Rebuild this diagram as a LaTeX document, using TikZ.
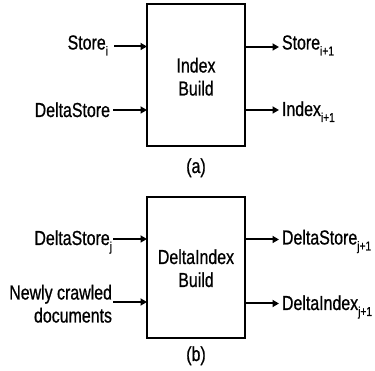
\documentclass[tikz,border=0pt]{standalone}
\usepackage{fontspec}
\setmainfont{Liberation Sans}[FakeStretch=0.785,FakeBold=0.7]
\usetikzlibrary{arrows.meta}
\newcommand\sbx[1]{\raisebox{-6pt}{\fontsize{13}{13}\selectfont #1}}
\newcommand\lines[3]{\begin{tabular}[t]{@{}#1@{}}#2\\#3\end{tabular}}
\begin{document}
\begin{tikzpicture}[x=1pt,y=-1pt,
  txt/.style={inner sep=0pt,outer sep=0pt,font=\fontsize{20.3}{23}\selectfont},
  box/.style={draw,line width=2.2pt,minimum width=98pt,minimum height=142pt,inner sep=0pt,outer sep=0pt},
  arr/.style={line width=2pt,-{Triangle[length=6.5pt,width=7pt]}}]
\useasboundingbox (0,0) rectangle (375,371);
% ---------- (a) ----------
\node[box] (A) at (196,75) {};
\node[txt,anchor=base] (At) at (196,72.5) {\lines{c}{Index}{Build}};
\node[txt,anchor=base east] (si) at (108,49.5) {Store\sbx{i}};
\node[txt,anchor=base east] (ds) at (110,117) {DeltaStore};
\node[txt,anchor=base west] (so) at (282,49.5) {Store\sbx{i+1}};
\node[txt,anchor=base west] (io) at (282,116) {Index\sbx{i+1}};
\node[txt,anchor=base] (la) at (196,173) {(a)};
\coordinate (si1) at (114,46.5);
\coordinate (ds1) at (113,110);
\coordinate (so1) at (279,47);
\coordinate (io1) at (279,110);
\draw[arr] (si1) -- (si1 -| A.west);
\draw[arr] (ds1) -- (ds1 -| A.west);
\draw[arr] (so1 -| A.east) -- (so1);
\draw[arr] (io1 -| A.east) -- (io1);
% ---------- (b) ----------
\node[box,minimum height=141.5pt] (B) at (196,267.5) {};
\node[txt,anchor=base] (Bt) at (196,264) {\lines{c}{DeltaIndex}{Build}};
\node[txt,anchor=base east] (dj) at (112,245) {DeltaStore\sbx{j}};
\node[txt,anchor=base east] (nc) at (112,299.5) {\lines{r}{Newly crawled}{documents}};
\node[txt,anchor=base west] (dso) at (282,244.5) {DeltaStore\sbx{j+1}};
\node[txt,anchor=base west] (dio) at (282,310) {DeltaIndex\sbx{j+1}};
\node[txt,anchor=base] (lb) at (196,361) {(b)};
\coordinate (dj1) at (113,239);
\coordinate (nc1) at (113,302);
\coordinate (dso1) at (279,239.5);
\coordinate (dio1) at (279,303.5);
\draw[arr] (dj1) -- (dj1 -| B.west);
\draw[arr] (nc1) -- (nc1 -| B.west);
\draw[arr] (dso1 -| B.east) -- (dso1);
\draw[arr] (dio1 -| B.east) -- (dio1);
\end{tikzpicture}
\end{document}
